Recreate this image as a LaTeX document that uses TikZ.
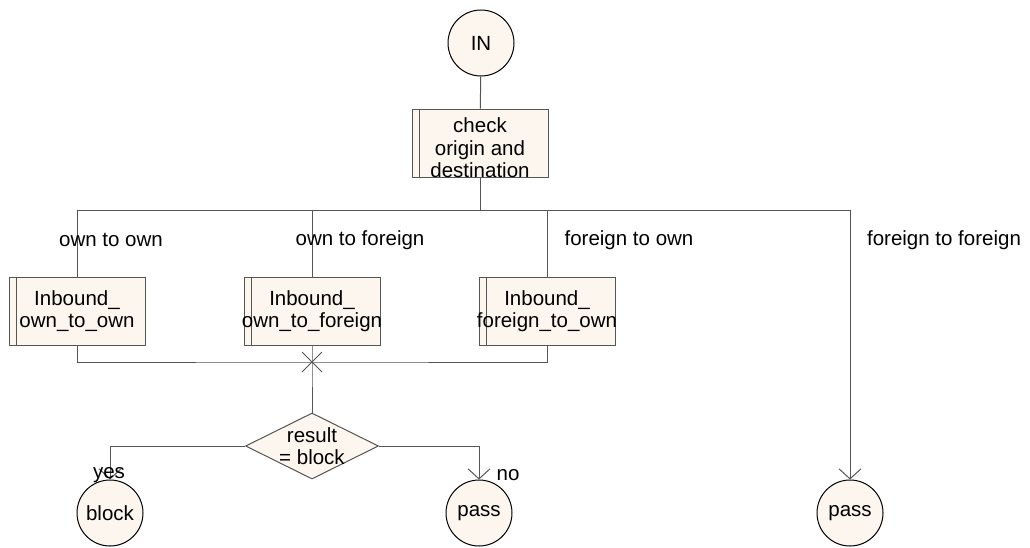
\documentclass[tikz,border=0pt]{standalone}
\usepackage{fontspec}
\setmainfont{Liberation Sans}
\usetikzlibrary{shapes.geometric,arrows.meta}

\definecolor{cream}{RGB}{253,246,239}
\definecolor{wire}{RGB}{85,85,85}

\begin{document}
\begin{tikzpicture}[x=1pt,y=-1pt,
  font=\fontsize{20.5}{22.5}\selectfont,
  every path/.style={line width=1pt},
  term/.style={circle,draw=black,fill=cream,minimum size=66pt,inner sep=0pt},
  proc/.style={rectangle,draw=wire,fill=cream,minimum width=136pt,minimum height=68pt,inner sep=0pt,
    path picture={\draw[wire] ([xshift=7pt]path picture bounding box.north west)
      -- ([xshift=7pt]path picture bounding box.south west);}},
  decide/.style={diamond,draw=wire,fill=cream,minimum width=133pt,minimum height=66pt,inner sep=0pt},
  wiring/.style={draw=wire},
  flow/.style={draw=wire,-{Straight Barb[length=10pt,width=22pt]}}]
  \useasboundingbox (0,0) rectangle (1030,547);

  \node[term] (in) at (481,43) {IN};
  \node[proc,label={[align=center,yshift=-5pt]center:check\\origin and\\destination}] (chk) at (480,143) {};
  \coordinate (split) at (480,210);

  \node[proc,label={[align=center]center:Inbound\_\\own\_to\_own}] (o2o) at (77,311) {};
  \node[proc,label={[align=center]center:Inbound\_\\own\_to\_foreign}] (o2f) at (312,311) {};
  \node[proc,label={[align=center]center:Inbound\_\\foreign\_to\_own}] (f2o) at (547,311) {};

  \coordinate (join) at (312,362);
  \node[decide,label={[align=center]center:result\\= block}] (dec) at (312,446) {};

  \node[term] (block) at (110,513) {block};
  \node[term] (pass) at (479,513) {pass};
  \node[term] (passff) at (850,513) {pass};

  % top part
  \draw[wiring] (in) -- (chk);
  \draw[wiring] (chk) -- (split);
  \draw[wiring] (o2o.north) |- (split);
  \draw[wiring] (o2f.north) -- (o2f.north |- split);
  \draw[wiring] (f2o.north) -- (f2o.north |- split);
  \draw[flow] (split) -| (passff);

  \node (lo2o) at (111,240) {own to own};
  \node (lo2f) at (360,240) {own to foreign};
  \node (lf2o) at (629,240) {foreign to own};
  \node (lff) at (944,240) {foreign to foreign};

  % join and decision
  \draw[wiring] (o2o.south) |- (join) -| (f2o.south);
  \draw[wiring] (o2f.south) -- (join) -- (dec.north);
  \draw[wiring] (join) +(-10,-10) -- +(10,10);
  \draw[wiring] (join) +(-10,10) -- +(10,-10);

  \draw[flow] (dec.west) -| (block);
  \draw[flow] (dec.east) -| (pass);
  \node (yes) at (109,475) {yes};
  \node (no) at (508,475) {no};
\end{tikzpicture}
\end{document}
